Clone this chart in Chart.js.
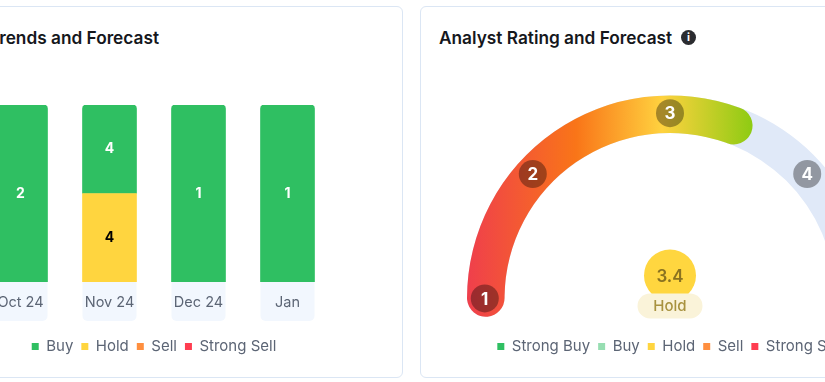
<!DOCTYPE html>
<html>
<head>
<meta charset="utf-8">
<title>Analyst Rating and Forecast</title>
<script src="https://cdn.jsdelivr.net/npm/chart.js@4"></script>
<style>
  html, body { margin: 0; background: #fff; overflow: hidden; }
  body { position: relative; width: 825px; height: 382px; font-family: Inter, sans-serif; }
  .card { position: absolute; top: 6px; height: 370px; background: #fff; border: 1px solid #dbe6f4; border-radius: 6px; box-sizing: content-box; }
  #leftCard { left: -40px; width: 441px; }
  #rightCard { left: 420px; width: 500px; }
  .title { position: absolute; top: 28px; font-size: 17.25px; font-weight: 600; color: #15171c; white-space: nowrap; line-height: 20px; }
  #leftTitle { right: 666px; }
  #rightTitle { left: 439px; }
  #info { position: absolute; left: 681px; top: 30px; width: 15px; height: 15px; border-radius: 50%; background: #2b2c30; color: #fff; font-size: 11px; font-weight: 700; line-height: 15px; text-align: center; }
  canvas { position: absolute; }
  #barChart { left: -24px; top: 95px; }
  #trackChart, #gaugeChart { left: 420px; top: 83px; }
</style>
</head>
<body>
<div class="card" id="leftCard"></div>
<div class="card" id="rightCard"></div>
<div class="title" id="leftTitle">Trends and Forecast</div>
<div class="title" id="rightTitle">Analyst Rating and Forecast</div>
<div id="info">i</div>
<canvas id="barChart" width="356" height="269"></canvas>
<canvas id="trackChart" width="500" height="281"></canvas>
<canvas id="gaugeChart" width="500" height="281"></canvas>

<script>
const months = ['Oct 24', 'Nov 24', 'Dec 24', 'Jan']
const buyCounts = [2, 4, 1, 1]
const holdCounts = [0, 4, 0, 0]
const sellCounts = [0, 0, 0, 0]
const strongSellCounts = [0, 0, 0, 0]

const ratingLabels = ['Strong Buy', 'Buy', 'Hold', 'Sell', 'Strong Sell']
const ratingColors = ['#2fbf62', '#97deb2', '#ffd53f', '#ff8f3f', '#ff3d50']
const ratingTicks = [1, 2, 3, 4, 5]
const ratingValue = 3.4
const ratingWord = 'Hold'
// where the coloured band stops on the 1-5 scale
const gaugeEnd = 3.58

const legendFont = { family: 'Inter, sans-serif', size: 15 }
const tickFont = { family: 'Inter, sans-serif', size: 14.5 }
const legendColor = '#5c6575'

// counts become shares, every bar is full height
const totals = months.map((m, i) => buyCounts[i] + holdCounts[i] + sellCounts[i] + strongSellCounts[i])
const share = (counts) => counts.map((c, i) => (c ? c / totals[i] : null))

const labelBoxes = {
  id: 'labelBoxes',
  beforeDraw(chart) {
    const { ctx, chartArea, scales } = chart
    ctx.save()
    ctx.fillStyle = '#f2f7fe'
    months.forEach((m, i) => {
      const x = scales.x.getPixelForTick(i)
      ctx.beginPath()
      ctx.roundRect(x - 27, chartArea.bottom, 54, 39, [0, 0, 5, 5])
      ctx.fill()
    })
    ctx.restore()
  }
}

const barLabels = {
  id: 'barLabels',
  afterDatasetsDraw(chart) {
    const { ctx } = chart
    ctx.save()
    ctx.font = '700 14px Inter, sans-serif'
    ctx.textAlign = 'center'
    ctx.textBaseline = 'middle'
    chart.data.datasets.forEach((ds, d) => {
      chart.getDatasetMeta(d).data.forEach((bar, i) => {
        if (!ds.counts[i]) return
        const c = bar.getCenterPoint()
        ctx.fillStyle = ds.textColor
        ctx.fillText(ds.counts[i], c.x, c.y)
      })
    })
    ctx.restore()
  }
}

const topCorners = { topLeft: 4, topRight: 4, bottomLeft: 0, bottomRight: 0 }

new Chart(document.getElementById('barChart'), {
  type: 'bar',
  data: {
    labels: months,
    datasets: [
      { label: 'Strong Sell', data: share(strongSellCounts), counts: strongSellCounts, backgroundColor: ratingColors[4], textColor: '#fff' },
      { label: 'Sell', data: share(sellCounts), counts: sellCounts, backgroundColor: ratingColors[3], textColor: '#000' },
      { label: 'Hold', data: share(holdCounts), counts: holdCounts, backgroundColor: ratingColors[2], textColor: '#000' },
      { label: 'Buy', data: share(buyCounts), counts: buyCounts, backgroundColor: ratingColors[0], textColor: '#fff', borderRadius: topCorners, borderSkipped: false }
    ]
  },
  options: {
    responsive: false,
    animation: false,
    barThickness: 54,
    layout: { padding: { top: 10 } },
    plugins: {
      tooltip: { enabled: false },
      legend: {
        position: 'bottom',
        reverse: true,
        labels: { boxWidth: 7, boxHeight: 7, padding: 8, font: legendFont, color: legendColor }
      }
    },
    scales: {
      x: {
        stacked: true,
        grid: { display: false },
        border: { display: false },
        ticks: { padding: 4, color: legendColor, font: tickFont, maxRotation: 0 },
        afterFit(scale) { scale.height = 49 }
      },
      y: { stacked: true, display: false, min: 0, max: 1 }
    }
  },
  plugins: [labelBoxes, barLabels]
})

// gauge: ring runs a little past both ends so the round caps sit centred on 1 and 5
const capPad = 0.127
const gaugeRotation = -95.7
const gaugeSweep = 191.4
const gaugeRadius = 203
const gaugeCutout = '81.5%'
const tickSweepDeg = [0, 42.2, 90, 137.8, 180]

const legendItems = () => ratingLabels.map((text, i) => ({ text, fillStyle: ratingColors[i], strokeStyle: ratingColors[i], lineWidth: 0, fontColor: legendColor, index: i }))

const track = new Chart(document.getElementById('trackChart'), {
  type: 'doughnut',
  data: {
    labels: ratingLabels,
    datasets: [{ data: [1], backgroundColor: '#e0e9f8', borderWidth: 0, borderRadius: 19 }]
  },
  options: {
    responsive: false,
    animation: false,
    rotation: gaugeRotation,
    circumference: gaugeSweep,
    radius: gaugeRadius,
    cutout: gaugeCutout,
    plugins: {
      tooltip: { enabled: false },
      legend: {
        position: 'bottom',
        labels: { boxWidth: 7, boxHeight: 7, padding: 8, font: legendFont, color: legendColor, generateLabels: legendItems }
      }
    }
  }
})

const gaugeFill = (ctx) => {
  if (ctx.dataIndex !== 0) return 'transparent'
  const area = ctx.chart.chartArea
  if (!area) return '#f97316'
  const cx = (area.left + area.right) / 2
  const g = ctx.chart.ctx.createLinearGradient(cx - 203, 0, cx + 84, 0)
  g.addColorStop(0, '#ef3f4c')
  g.addColorStop(0.38, '#f97518')
  g.addColorStop(0.68, '#ffd23f')
  g.addColorStop(1, '#8ccb12')
  return g
}

const gaugeMarks = {
  id: 'gaugeMarks',
  afterDatasetsDraw(chart) {
    const { ctx } = chart
    const arc = chart.getDatasetMeta(0).data[0]
    const mid = (arc.innerRadius + arc.outerRadius) / 2 + 1
    ctx.save()
    ctx.textAlign = 'center'
    ctx.textBaseline = 'middle'

    ratingTicks.forEach((t, i) => {
      const a = Math.PI + tickSweepDeg[i] * Math.PI / 180
      const x = arc.x + Math.cos(a) * mid
      const y = arc.y + Math.sin(a) * mid
      ctx.fillStyle = 'rgba(0,0,0,0.35)'
      ctx.beginPath()
      ctx.arc(x, y, 14, 0, Math.PI * 2)
      ctx.fill()
      ctx.fillStyle = '#fff'
      ctx.font = '700 17px Inter, sans-serif'
      ctx.fillText(t, x, y + 1)
    })

    // score bubble and word under it
    ctx.fillStyle = '#ffd63f'
    ctx.beginPath()
    ctx.arc(arc.x, arc.y - 23, 26, 0, Math.PI * 2)
    ctx.fill()
    ctx.fillStyle = '#faf3d9'
    ctx.beginPath()
    ctx.roundRect(arc.x - 32.5, arc.y - 5, 65, 25, 12.5)
    ctx.fill()
    ctx.fillStyle = '#8a7220'
    ctx.font = '600 17px Inter, sans-serif'
    ctx.fillText(ratingValue.toFixed(1), arc.x, arc.y - 22)
    ctx.fillStyle = '#a8923f'
    ctx.font = '500 15px Inter, sans-serif'
    ctx.fillText(ratingWord, arc.x, arc.y + 8)
    ctx.restore()
  }
}

new Chart(document.getElementById('gaugeChart'), {
  type: 'doughnut',
  data: {
    datasets: [{
      data: [gaugeEnd - (1 - capPad), 5 + capPad - gaugeEnd],
      backgroundColor: gaugeFill,
      borderWidth: 0,
      borderRadius: 19
    }]
  },
  options: {
    responsive: false,
    animation: false,
    rotation: gaugeRotation,
    circumference: gaugeSweep,
    radius: gaugeRadius,
    cutout: gaugeCutout,
    layout: { padding: { bottom: track.height - track.chartArea.bottom } },
    plugins: { tooltip: { enabled: false }, legend: { display: false } }
  },
  plugins: [gaugeMarks]
})
</script>
</body>
</html>
